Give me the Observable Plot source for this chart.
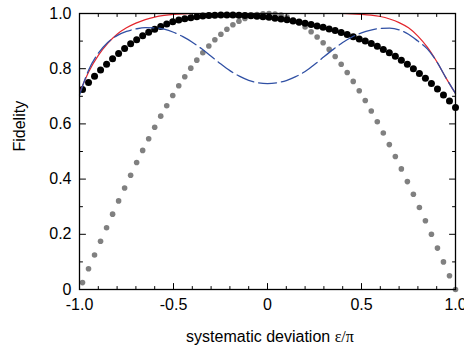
<!DOCTYPE html>
<html><head><meta charset="utf-8">
<script src="https://cdn.jsdelivr.net/npm/d3@7"></script>
<script src="https://cdn.jsdelivr.net/npm/@observablehq/plot@0.6"></script>
<style>
body{margin:0;background:#fff;}
#wrap{position:relative;width:464px;height:351px;font-family:Arial,"Liberation Sans",sans-serif;}
#xt{position:absolute;left:0;top:328px;width:540px;text-align:center;font-size:16px;line-height:18px;color:#000;}
#xt span{font-family:"Liberation Serif","Times New Roman",serif;}
</style>
</head><body>
<div id="wrap"><div id="chart"></div><div id="xt">systematic deviation <span>ε/π</span></div></div>
<script>
// dot positions (systematic deviation ε/π)
const dotX = [-0.984,-0.952,-0.920,-0.888,-0.856,-0.824,-0.792,-0.760,-0.728,-0.696,
  -0.664,-0.632,-0.600,-0.568,-0.536,-0.504,-0.472,-0.440,-0.408,-0.376,
  -0.344,-0.312,-0.280,-0.248,-0.216,-0.184,-0.152,-0.120,-0.088,-0.056,
  -0.024,0.008,0.040,0.072,0.104,0.136,0.168,0.200,0.232,0.264,
  0.296,0.328,0.360,0.392,0.424,0.456,0.488,0.520,0.552,0.584,
  0.616,0.648,0.680,0.712,0.744,0.776,0.808,0.840,0.872,0.904,
  0.936,0.968,1.000];
const grayY = [0.025,0.075,0.125,0.175,0.224,0.273,0.321,0.368,0.414,0.460,
  0.504,0.546,0.588,0.628,0.666,0.703,0.738,0.771,0.802,0.831,
  0.858,0.882,0.905,0.925,0.943,0.959,0.972,0.982,0.991,0.996,
  0.999,1.000,0.998,0.994,0.987,0.977,0.965,0.951,0.934,0.915,
  0.894,0.870,0.844,0.816,0.786,0.754,0.720,0.685,0.647,0.608,
  0.567,0.525,0.482,0.437,0.391,0.345,0.297,0.249,0.200,0.150,
  0.100,0.050,0.000];
const blackY = [0.725,0.750,0.773,0.795,0.816,0.836,0.855,0.873,0.890,0.905,
  0.919,0.932,0.943,0.953,0.962,0.970,0.976,0.981,0.985,0.988,
  0.991,0.993,0.994,0.995,0.995,0.995,0.994,0.993,0.992,0.990,
  0.988,0.986,0.983,0.980,0.977,0.973,0.969,0.965,0.960,0.955,
  0.950,0.944,0.938,0.931,0.924,0.916,0.908,0.900,0.891,0.881,
  0.870,0.858,0.845,0.831,0.816,0.800,0.783,0.765,0.746,0.726,
  0.705,0.683,0.659];
// curve samples
const lineX = [-1.00,-0.95,-0.90,-0.85,-0.80,-0.75,-0.70,-0.65,-0.60,-0.55,
  -0.50,-0.45,-0.40,-0.35,-0.30,-0.25,-0.20,-0.15,-0.10,-0.05,
  0.00,0.05,0.10,0.15,0.20,0.25,0.30,0.35,0.40,0.45,
  0.50,0.55,0.60,0.65,0.70,0.75,0.80,0.85,0.90,0.95,1.00];
const redY = [0.712,0.790,0.848,0.892,0.925,0.948,0.965,0.978,0.987,0.993,
  0.997,0.999,1.000,1.000,1.000,1.000,1.000,1.000,1.000,1.000,
  1.000,1.000,1.000,1.000,1.000,1.000,1.000,1.000,1.000,0.999,
  0.997,0.994,0.989,0.980,0.967,0.948,0.918,0.878,0.826,0.766,0.710];
const blueY = [0.705,0.797,0.856,0.895,0.920,0.935,0.944,0.949,0.948,0.943,
  0.932,0.916,0.896,0.872,0.845,0.818,0.793,0.773,0.758,0.749,
  0.746,0.749,0.757,0.771,0.790,0.815,0.843,0.870,0.895,0.915,
  0.930,0.940,0.946,0.947,0.941,0.925,0.900,0.872,0.826,0.766,0.710];
// ticks
const xTicks = [-1, -0.5, 0, 0.5, 1];
const xTickLabels = ["-1.0", "-0.5", "0", "0.5", "1.0"];
const xMinor = [-0.9,-0.8,-0.7,-0.6,-0.4,-0.3,-0.2,-0.1,0.1,0.2,0.3,0.4,0.6,0.7,0.8,0.9];
const yTicks = [0, 0.2, 0.4, 0.6, 0.8, 1];
const yTickLabels = ["0", "0.2", "0.4", "0.6", "0.8", "1.0"];
const yMinor = [0.1, 0.3, 0.5, 0.7, 0.9];

const dotsGray = dotX.map((x, i) => ({x, y: grayY[i]}));
const dotsBlack = dotX.map((x, i) => ({x, y: blackY[i]}));
const red = lineX.map((x, i) => ({x, y: redY[i]}));
const blue = lineX.map((x, i) => ({x, y: blueY[i]}));

const tickShape = {draw(ctx, l) { ctx.moveTo(0, 0); ctx.lineTo(0, -l); }};
const tk = (data, side, len) => {
  const o = {length: len, anchor: "start", shape: tickShape, stroke: "black", strokeWidth: 1, frameAnchor: side};
  if (side === "bottom") return Plot.vector(data, {...o, x: d => d, rotate: 0});
  if (side === "top") return Plot.vector(data, {...o, x: d => d, rotate: 180});
  if (side === "left") return Plot.vector(data, {...o, y: d => d, rotate: 90});
  return Plot.vector(data, {...o, y: d => d, rotate: 270});
};

const chart = Plot.plot({
  width: 464, height: 351,
  marginLeft: 79, marginRight: 9, marginTop: 13, marginBottom: 62,
  x: {domain: [-1, 1]},
  y: {domain: [0, 1]},
  style: {fontFamily: "Arial, 'Liberation Sans', sans-serif", fontSize: "16px", background: "#fff", color: "#000", overflow: "visible"},
  marks: [
    Plot.dot(dotsGray, {x: "x", y: "y", r: 2.8, fill: "#808080", stroke: "none"}),
    Plot.dot(dotsBlack, {x: "x", y: "y", r: 3.5, fill: "#000", stroke: "none"}),
    Plot.line(red, {x: "x", y: "y", stroke: "#e3262d", strokeWidth: 1.2, curve: "monotone-x"}),
    Plot.line(blue, {x: "x", y: "y", stroke: "#3050a4", strokeWidth: 1.3, strokeDasharray: "18,5", curve: "monotone-x"}),
    Plot.frame({stroke: "#000", strokeWidth: 1.3}),
    tk(xTicks, "bottom", 6), tk(xMinor, "bottom", 3),
    tk(xTicks, "top", 6), tk(xMinor, "top", 3),
    tk(yTicks, "left", 6), tk(yMinor, "left", 3),
    tk(yTicks, "right", 6), tk(yMinor, "right", 3),
    Plot.axisX(xTicks, {anchor: "bottom", tickSize: 0, tickPadding: 9, label: null, fontSize: 16,
      tickFormat: d => xTickLabels[xTicks.indexOf(d)]}),
    Plot.axisY(yTicks, {anchor: "left", tickSize: 0, tickPadding: 8, label: null, fontSize: 16,
      tickFormat: d => yTickLabels[yTicks.indexOf(d)]}),
    Plot.text(["Fidelity"], {frameAnchor: "left", dx: -60, rotate: -90, text: d => d, fontSize: 16})
  ]
});
document.getElementById("chart").appendChild(chart);
</script>
</body></html>
